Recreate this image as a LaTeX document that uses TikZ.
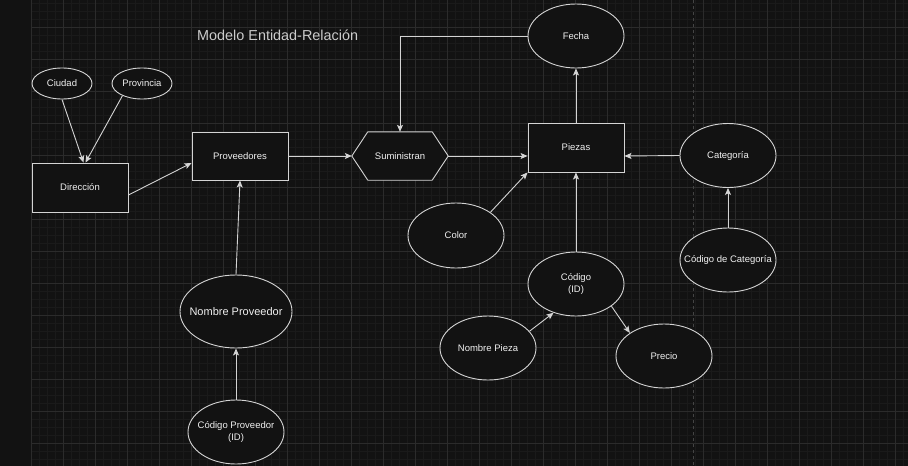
\documentclass[tikz,border=0pt]{standalone}
\usepackage{fontspec}
\setmainfont{Liberation Sans}
\usetikzlibrary{shapes.geometric,arrows.meta,calc}
\definecolor{bgc}{HTML}{121212}
\definecolor{minorc}{HTML}{1A1A1A}
\definecolor{majorc}{HTML}{2B2B2B}
\definecolor{strokec}{HTML}{D4D4D4}
\definecolor{textc}{HTML}{F0F0F0}
\definecolor{dashc}{HTML}{444444}
\tikzset{
  txt/.style={text=textc,align=center,inner sep=0pt,font=\fontsize{9.5}{12}\selectfont},
  ent/.style={rectangle,draw=strokec,fill=bgc,line width=0.9pt,minimum width=96pt,minimum height=48pt,inner sep=0pt,text=textc,font=\fontsize{9.5}{12}\selectfont},
  attr/.style={ellipse,draw=strokec,fill=bgc,line width=0.9pt,minimum width=96pt,minimum height=64pt,inner sep=0pt},
  conn/.style={draw=strokec,line width=0.9pt,-{Stealth[length=7pt,width=6pt,inset=1.5pt]}},
  minorline/.style={draw=minorc,line width=0.6pt},
  majorline/.style={draw=majorc,line width=0.8pt},
}
\begin{document}
\begin{tikzpicture}[x=1pt,y=-1pt]
\fill[bgc] (0,0) rectangle (908,466);
\useasboundingbox (0,0) rectangle (908,466);
% grid
\foreach \x in {31,39,...,908} \draw[minorline] (\x,0) -- (\x,466);
\foreach \y in {3,11,...,466} \draw[minorline] (31,\y) -- (908,\y);
\foreach \x in {31,63,...,908} \draw[majorline] (\x,0) -- (\x,466);
\foreach \y in {27,59,...,466} \draw[majorline] (31,\y) -- (908,\y);
\draw[dashc,line width=0.8pt,dash pattern=on 3pt off 3pt] (693.5,0) -- (693.5,466);
% title
\node[text=textc!85!black,font=\fontsize{14.4}{16}\selectfont,anchor=west,inner sep=0pt] (title) at (197,35) {Modelo Entidad-Relación};
% nodes
\node[attr,minimum width=60pt,minimum height=31pt,label={[txt]center:Ciudad}] (ciudad) at (62,83.5) {};
\node[attr,minimum width=60pt,minimum height=31pt,label={[txt]center:Provincia}] (provincia) at (142,83.5) {};
\node[ent,minimum height=49pt] (dir) at (80,187.5) {Dirección};
\node[ent] (prov) at (240,156) {Proveedores};
\node[attr,minimum width=112pt,minimum height=73pt,label={[txt,font=\fontsize{11}{13}\selectfont]center:Nombre Proveedor}] (nprov) at (236,311.5) {};
\node[attr,label={[txt]center:Código Proveedor\\(ID)}] (cprov) at (236,432) {};
\node[rectangle,minimum width=96pt,minimum height=48pt,inner sep=0pt] (sum) at (400,156) {};
\fill[bgc,draw=strokec,line width=0.9pt,line join=round] (sum.west) -- ($(sum.north west)+(16,0)$) -- ($(sum.north east)+(-16,0)$) -- (sum.east) -- ($(sum.south east)+(-16,0)$) -- ($(sum.south west)+(16,0)$) -- cycle;
\node[txt] (sumlabel) at (sum.center) {Suministran};
\node[ent,minimum height=49pt] (piezas) at (576,147.5) {Piezas};
\node[attr,label={[txt]center:Fecha}] (fecha) at (576,36) {};
\node[attr,label={[txt]center:Categoría}] (cat) at (728,155.5) {};
\node[attr,label={[txt]center:Código de Categoría}] (ccat) at (728,260) {};
\node[attr,minimum height=65pt,label={[txt]center:Color}] (color) at (456,235.5) {};
\node[attr,label={[txt]center:Código\\(ID)}] (cod) at (576,284) {};
\node[attr,label={[txt]center:Nombre Pieza}] (npieza) at (488,348) {};
\node[attr,label={[txt]center:Precio}] (precio) at (664,356) {};
% connectors
\draw[conn] (ciudad.south) -- ($(dir.north)+(3.5,0)$);
\draw[conn] (provincia.212) -- ($(dir.north)+(5.5,0)$);
\draw[conn] ($(dir.east)+(0,7.5)$) -- ($(prov.west)+(0,7)$);
\draw[conn] (nprov.north) -- (prov.south);
\draw[conn] (cprov.north) -- (nprov.south);
\draw[conn] (prov.east) -- (sum.west);
\draw[conn] (sum.east) -- ($(piezas.west)+(0,8.5)$);
\draw[conn] (cat.west) -- ($(piezas.east)+(0,8.5)$);
\draw[conn] (ccat.north) -- (cat.south);
\draw[conn] (piezas.north) -- (fecha.south);
\draw[conn] (fecha.west) -| (sum.north);
\draw[conn] (color.34) -- (piezas.south west);
\draw[conn] (cod.north) -- (piezas.south);
\draw[conn] (npieza.22) -- (cod.232);
\draw[conn] (cod.-32) -- (precio.146);
\end{tikzpicture}
\end{document}
